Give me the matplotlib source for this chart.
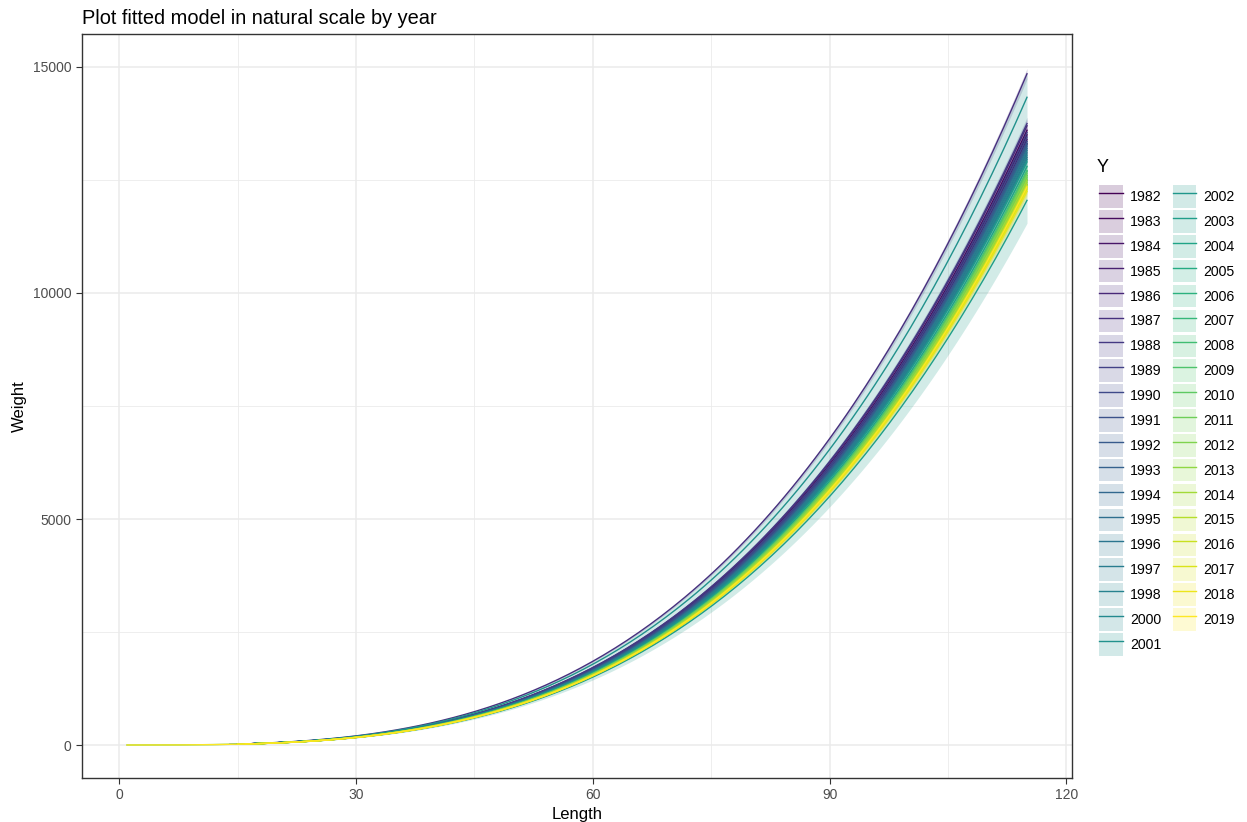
import numpy as np
import matplotlib
matplotlib.use('Agg')
import matplotlib.pyplot as plt
from matplotlib.patches import Patch
from matplotlib.lines import Line2D
from matplotlib.ticker import MultipleLocator

plt.rcParams['font.family'] = ['Liberation Sans', 'DejaVu Sans']

# fitted weight-length curves W = a * L^b, one per year
years = list(range(1982, 1999)) + list(range(2000, 2020))
w_at_115 = [13600, 13500, 13400, 13300, 13700, 14850, 13750, 13550, 13450, 13350,
            13300, 13250, 13200, 13100, 13000, 13150, 13050, 12950, 14330, 12900,
            12050, 12800, 12700, 12400, 12600, 12500, 12700, 12650, 12550, 12600,
            12450, 12500, 12350, 12400, 12300, 12250, 12350]
ci_frac = [0.010, 0.010, 0.010, 0.010, 0.010, 0.008, 0.010, 0.010, 0.010, 0.010,
           0.010, 0.010, 0.010, 0.012, 0.012, 0.012, 0.012, 0.012, 0.036, 0.012,
           0.042, 0.012, 0.012, 0.012, 0.012, 0.012, 0.012, 0.015, 0.012, 0.012,
           0.012, 0.012, 0.012, 0.012, 0.012, 0.012, 0.012]
len_min = [15, 16, 15, 17, 15, 18, 15, 16, 15, 17, 15, 14, 16, 15, 18, 15, 16, 15, 17, 15,
           16, 15, 17, 15, 16, 15, 16, 1, 15, 16, 15, 17, 15, 16, 15, 16, 1]
len_max = 115
b_exp = 3.2

colors = plt.cm.viridis(np.linspace(0, 1, len(years)))

fig = plt.figure(figsize=(12.47, 8.22), dpi=100)
ax = fig.add_axes([82 / 1247, 1 - 778 / 822, (1072 - 82) / 1247, (778 - 34) / 822])

handles = []
for i, yr in enumerate(years):
    L = np.linspace(len_min[i], len_max, 200)
    a = w_at_115[i] / len_max ** b_exp
    W = a * L ** b_exp
    ax.fill_between(L, W * (1 - ci_frac[i]), W * (1 + ci_frac[i]),
                    color=colors[i], alpha=0.2, lw=0)
for i, yr in enumerate(years):
    L = np.linspace(len_min[i], len_max, 200)
    a = w_at_115[i] / len_max ** b_exp
    ax.plot(L, a * L ** b_exp, color=colors[i], lw=1.0)
    handles.append((Patch(facecolor=colors[i], alpha=0.2, lw=0),
                    Line2D([], [], color=colors[i], lw=1.0)))

ax.set_xlim(-4.7, 120.7)
ax.set_ylim(-730, 15730)
ax.xaxis.set_major_locator(MultipleLocator(30))
ax.xaxis.set_minor_locator(MultipleLocator(15))
ax.yaxis.set_major_locator(MultipleLocator(5000))
ax.yaxis.set_minor_locator(MultipleLocator(2500))
ax.grid(True, which='major', color='#EBEBEB', lw=1.1)
ax.grid(True, which='minor', color='#EBEBEB', lw=0.6)
ax.set_axisbelow(True)
ax.tick_params(which='minor', length=0)
ax.tick_params(which='major', length=4, color='#333333', labelsize=10, labelcolor='#4D4D4D')
for s in ax.spines.values():
    s.set_color('#333333')
    s.set_linewidth(1.0)

ax.set_xlabel('Length', fontsize=12, labelpad=3)
ax.set_ylabel('Weight', fontsize=12, labelpad=4)
ax.set_title('Plot fitted model in natural scale by year', fontsize=14.4, loc='left', x=0.0, pad=7)

leg = fig.legend(handles, [str(y) for y in years], ncol=2, loc='upper left',
                 bbox_to_anchor=(1088 / 1247, 1 - 174 / 822), frameon=False,
                 fontsize=10.2,
                 handlelength=1.65, handleheight=2.07, handletextpad=0.5,
                 labelspacing=0.165, columnspacing=0.8, borderpad=0.3)
fig.text(1097 / 1247, 1 - 167 / 822, 'Y', fontsize=13, va='center', ha='left')

fig.savefig('out.png', dpi=100)
